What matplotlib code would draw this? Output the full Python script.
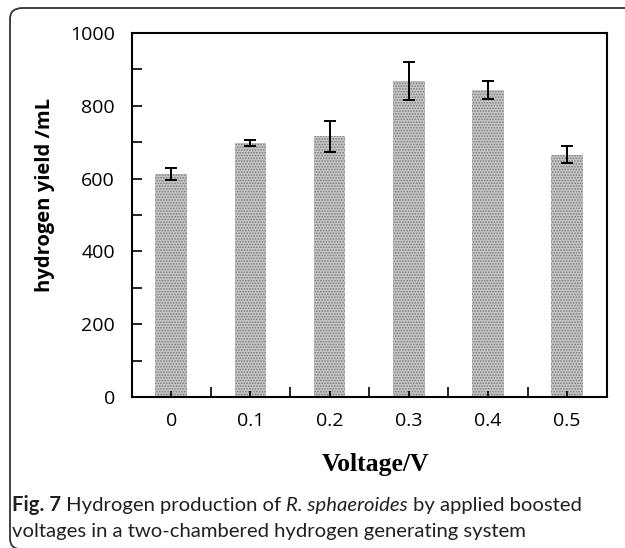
import matplotlib.pyplot as plt
from matplotlib.patches import FancyBboxPatch
from matplotlib.ticker import MultipleLocator

voltages = ['0', '0.1', '0.2', '0.3', '0.4', '0.5']
yields = [612, 698, 716, 869, 844, 666]
errors = [17, 9, 42, 52, 24, 24]

plt.rcParams['hatch.color'] = '#7a7a7a'
plt.rcParams['hatch.linewidth'] = 0.8

W, H = 625, 548
fig = plt.figure(figsize=(W / 100, H / 100), dpi=100)

# rounded frame, cut off at right and bottom like the reference
frame = FancyBboxPatch((10 / W, -1.5 / H), 640 / W, 541.5 / H,
                       boxstyle='round,pad=0,rounding_size=0.02',
                       transform=fig.transFigure, fill=False,
                       edgecolor='#333333', linewidth=1.3)
fig.patches.append(frame)

ax = fig.add_axes([0.2107, 0.2755, 0.76, 0.6642])
x = list(range(len(voltages)))
ax.bar(x, yields, width=0.4, color='#c6c6c6', hatch='......', linewidth=0)
ax.errorbar(x, yields, yerr=errors, fmt='none', ecolor='black',
            elinewidth=1.4, capsize=4, capthick=1.4)

ax.set_xlim(-0.5, 5.5)
ax.set_ylim(0, 1000)
ax.set_xticks(x)
ax.set_xticklabels(voltages)
ax.set_xticks([i - 0.5 for i in range(1, 6)], minor=True)
ax.yaxis.set_major_locator(MultipleLocator(200))
ax.yaxis.set_minor_locator(MultipleLocator(100))

for lab in ax.get_xticklabels() + ax.get_yticklabels():
    lab.set_fontfamily('Open Sans')
    lab.set_fontsize(14)
ax.tick_params(axis='x', which='major', direction='in', length=4, width=1.2, pad=11)
ax.tick_params(axis='x', which='minor', direction='in', length=7, width=1.2)
ax.tick_params(axis='y', which='both', direction='in', length=7, width=1.2, pad=12)
for s in ax.spines.values():
    s.set_linewidth(1.5)

fig.text(45 / W, 1 - 195 / H, 'hydrogen yield /mL', rotation=90,
         ha='center', va='center', family='Open Sans', weight='bold', fontsize=14.5)
fig.text(375 / W, 1 - 464 / H, 'Voltage/V', ha='center', va='center',
         family='Liberation Serif', weight='bold', fontsize=18.5)

cap = {'family': 'Lato', 'fontsize': 14.6, 'color': '#231f20', 'va': 'baseline'}
y1 = 1 - 511 / H
y2 = 1 - 537 / H
t = fig.text(12 / W, y1, 'Fig. 7', weight='bold', **cap)
fig.canvas.draw()
r = fig.canvas.get_renderer()
xpos = t.get_window_extent(r).x1
t = fig.text(xpos / W, y1, ' Hydrogen production of ', **cap)
xpos = t.get_window_extent(r).x1
t = fig.text(xpos / W, y1, 'R. sphaeroides', style='italic', **cap)
xpos = t.get_window_extent(r).x1
fig.text(xpos / W, y1, ' by applied boosted', **cap)
fig.text(12 / W, y2, 'voltages in a two-chambered hydrogen generating system', **cap)

fig.savefig('out.png', dpi=100)
